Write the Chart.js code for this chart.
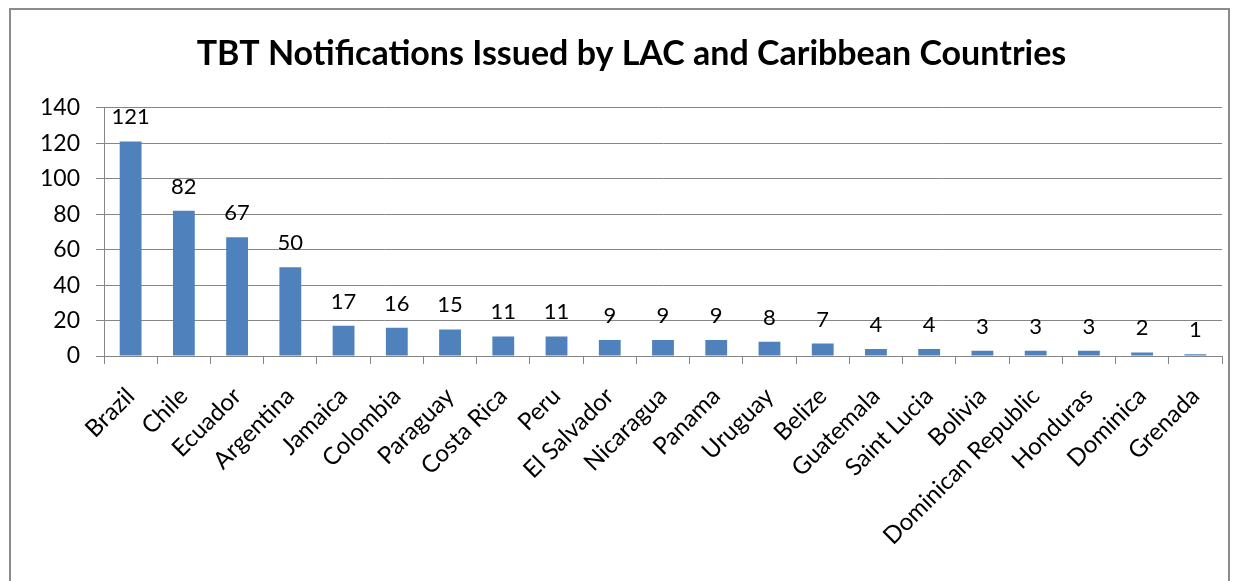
<!DOCTYPE html>
<html>
<head>
<meta charset="utf-8">
<script src="https://cdn.jsdelivr.net/npm/chart.js@4/dist/chart.umd.min.js"></script>
<style>
    html, body { margin: 0; padding: 0; background: #fff; overflow: hidden; }
    #frame {
        position: absolute; left: 9px; top: 8px; width: 1221px; height: 600px;
        border: 2px solid #8c8c8c; box-sizing: border-box;
    }
    #wrap { position: absolute; left: 0; top: 0; width: 1243px; height: 581px; }
</style>
</head>
<body>
<div id="frame"></div>
<div id="wrap"><canvas id="tbtChart"></canvas></div>
<script>
// Notifications per country
const countries = ['Brazil', 'Chile', 'Ecuador', 'Argentina', 'Jamaica', 'Colombia', 'Paraguay',
    'Costa Rica', 'Peru', 'El Salvador', 'Nicaragua', 'Panama', 'Uruguay', 'Belize', 'Guatemala',
    'Saint Lucia', 'Bolivia', 'Dominican Republic', 'Honduras', 'Dominica', 'Grenada'];
const notifications = [121, 82, 67, 50, 17, 16, 15, 11, 11, 9, 9, 9, 8, 7, 4, 4, 3, 3, 3, 2, 1];
const yTicks = [0, 20, 40, 60, 80, 100, 120, 140];

const FONT = "Lato, 'Open Sans', sans-serif";
const GRID = '#868686';

// value above each bar
const barLabels = {
    id: 'barLabels',
    afterDatasetsDraw(chart) {
        const ctx = chart.ctx;
        const meta = chart.getDatasetMeta(0);
        ctx.save();
        ctx.font = '22px ' + FONT;
        ctx.fillStyle = '#000';
        ctx.textAlign = 'center';
        ctx.textBaseline = 'alphabetic';
        meta.data.forEach((bar, i) => {
            ctx.fillText(String(notifications[i]), bar.x, bar.y - 17);
        });
        ctx.restore();
    }
};

new Chart(document.getElementById('tbtChart'), {
    type: 'bar',
    data: {
        labels: countries,
        datasets: [{
            data: notifications,
            backgroundColor: '#4f81bd',
            barPercentage: 0.41,
            categoryPercentage: 1
        }]
    },
    options: {
        responsive: true,
        maintainAspectRatio: false,
        animation: false,
        // left padding nudges the title right; y axis width makes up the rest
        layout: { padding: { left: 41, right: 21, top: 0, bottom: 0 } },
        plugins: {
            legend: { display: false },
            tooltip: { enabled: false },
            title: {
                display: true,
                text: 'TBT Notifications Issued by LAC and Caribbean Countries',
                color: '#000',
                font: { family: FONT, size: 34, weight: 'bold' },
                padding: { top: 34, bottom: 33 }
            }
        },
        scales: {
            y: {
                min: 0,
                max: 140,
                afterFit(scale) { scale.width = 63; },
                afterBuildTicks(scale) { scale.ticks = yTicks.map(v => ({ value: v })); },
                border: { color: GRID },
                grid: { color: GRID, tickLength: 8, tickColor: GRID },
                ticks: { color: '#000', padding: 16, font: { family: FONT, size: 23 } }
            },
            x: {
                afterFit(scale) { scale.height = 225; },
                border: { color: GRID },
                grid: { drawOnChartArea: false, offset: true, tickLength: 8, color: GRID },
                ticks: {
                    color: '#000', maxRotation: 45, minRotation: 45, autoSkip: false,
                    padding: 18, font: { family: FONT, size: 24 }
                }
            }
        }
    },
    plugins: [barLabels]
});
</script>
</body>
</html>
